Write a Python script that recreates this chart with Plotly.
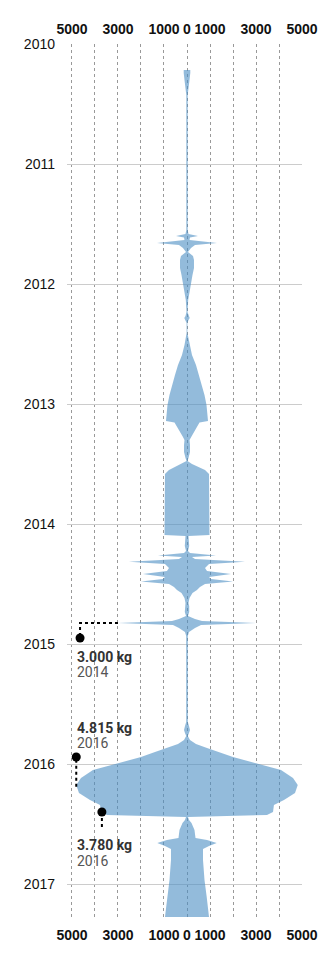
import plotly.graph_objects as go

# Time (decimal year) and half-width value (kg) of the symmetric stream
years = [2010.2167, 2010.2417, 2010.3, 2010.3667, 2010.425, 2011.55, 2011.5833, 2011.6, 2011.6125,
         2011.6333, 2011.6583, 2011.675, 2011.7, 2011.7333, 2011.7667, 2011.8, 2011.8667, 2011.925,
         2012.0083, 2012.1333, 2012.2333, 2012.2667, 2012.2833, 2012.3, 2012.325, 2012.4083, 2012.45,
         2012.5083, 2012.5917, 2012.675, 2012.7583, 2012.8417, 2012.925, 2013.0083, 2013.0917,
         2013.1417, 2013.1542, 2013.2, 2013.2417, 2013.275, 2013.3, 2013.3417, 2013.4, 2013.45,
         2013.475, 2013.5, 2013.525, 2013.55, 2013.5833, 2014.05, 2014.0917, 2014.1, 2014.1333,
         2014.1833, 2014.225, 2014.2417, 2014.2625, 2014.275, 2014.2917, 2014.3142, 2014.3333,
         2014.3667, 2014.3917, 2014.4167, 2014.4417, 2014.4583, 2014.4792, 2014.5, 2014.525, 2014.55,
         2014.575, 2014.6167, 2014.6583, 2014.6833, 2014.7333, 2014.7667, 2014.7917, 2014.8083,
         2014.825, 2014.8417, 2014.8667, 2014.9, 2014.9333, 2015.65, 2015.6833, 2015.7167, 2015.7417,
         2015.7667, 2015.8, 2015.8333, 2015.8667, 2015.9, 2015.9417, 2015.9917, 2016.05, 2016.1167,
         2016.175, 2016.2417, 2016.3, 2016.3417, 2016.4, 2016.425, 2016.4417, 2016.4667, 2016.4917,
         2016.55, 2016.6167, 2016.6333, 2016.6583, 2016.6833, 2016.7083, 2016.8, 2016.9667, 2017.1083,
         2017.275]
kg = [143, 143, 109, 52, 30, 30, 65, 478, 130,
      109, 1304, 348, 174, 43, 261, 304, 304, 239,
      152, 52, 22, 65, 117, 65, 17, 17, 65,
      109, 217, 391, 522, 652, 761, 848, 891,
      913, 543, 413, 283, 174, 109, 130, 130, 65,
      22, 217, 522, 783, 957, 978, 978, 65, 87,
      96, 43, 130, 1261, 217, 348, 2522, 957,
      783, 870, 1913, 957, 1043, 2000, 783, 565, 435,
      239, 109, 65, 96, 96, 43, 348, 652,
      3000, 609, 348, 87, 35, 35, 87, 130, 87,
      35, 130, 391, 870, 1391, 2000, 2957, 4087, 4609,
      4815, 4696, 4217, 3780, 3739, 3478, 43, 87, 196,
      326, 370, 870, 1291, 957, 696, 696, 761, 857,
      957]

year_ticks = [2010, 2011, 2012, 2013, 2014, 2015, 2016, 2017]
x_ticks = [-5000, -4000, -3000, -2000, -1000, 0, 1000, 2000, 3000, 4000, 5000]
x_labels = ["5000", "", "3000", "", "1000", "0", "1000", "", "3000", "", "5000"]

# Callouts: value label, year label
callouts = [
    {"value": "3.000 kg", "year": "2014"},
    {"value": "4.815 kg", "year": "2016"},
    {"value": "3.780 kg", "year": "2016"},
]

fig = go.Figure()

poly_x = kg + [-v for v in kg[::-1]]
poly_y = years + years[::-1]
fig.add_trace(go.Scatter(
    x=poly_x, y=poly_y, mode="lines", fill="toself",
    fillcolor="rgba(75,142,195,0.6)", line=dict(width=0, color="rgba(0,0,0,0)"),
    hoverinfo="skip", showlegend=False))

# callout leader lines (dotted) and dots
leader = dict(color="black", width=2, dash="dot")
fig.add_trace(go.Scatter(x=[-3000, -4650, -4650], y=[2014.825, 2014.825, 2014.95],
                         mode="lines", line=leader, showlegend=False, hoverinfo="skip"))
fig.add_trace(go.Scatter(x=[-4815, -4815], y=[2016.19, 2015.942],
                         mode="lines", line=leader, showlegend=False, hoverinfo="skip"))
fig.add_trace(go.Scatter(x=[-3700, -3700], y=[2016.4, 2016.55],
                         mode="lines", line=leader, showlegend=False, hoverinfo="skip"))
fig.add_trace(go.Scatter(x=[-4650, -4815, -3700], y=[2014.95, 2015.942, 2016.4],
                         mode="markers", marker=dict(color="black", size=9),
                         showlegend=False, hoverinfo="skip"))

label_pos = [(-4880, 2015.108, 2015.233), (-4880, 2015.70, 2015.825), (-4880, 2016.675, 2016.808)]
for c, (lx, y1, y2) in zip(callouts, label_pos):
    fig.add_annotation(x=lx, y=y1, text="<b>" + c["value"] + "</b>", showarrow=False,
                       xanchor="left", yanchor="middle",
                       font=dict(family="Roboto", size=14, color="#333333"))
    fig.add_annotation(x=lx, y=y2, text=c["year"], showarrow=False,
                       xanchor="left", yanchor="middle",
                       font=dict(family="Roboto", size=14, color="#555555"))

xaxis_common = dict(range=[-5217, 5000], tickvals=x_ticks, ticktext=x_labels,
                    tickfont=dict(family="Liberation Sans", size=14, color="#111111", weight="bold"),
                    zeroline=False, showline=False, fixedrange=True, automargin=False)

fig.update_layout(
    width=320, height=970,
    margin=dict(l=67, r=18, t=44, b=53),
    paper_bgcolor="white", plot_bgcolor="white",
    showlegend=False,
    xaxis=dict(**xaxis_common, side="bottom", showgrid=True, gridcolor="#999999",
               griddash="3px,3px", gridwidth=1, ticklabelstandoff=8),
    xaxis2=dict(**xaxis_common, side="top", overlaying="x", matches="x", showgrid=False,
                ticklabelstandoff=6),
    yaxis=dict(range=[2017.275, 2010], tickvals=year_ticks, ticktext=[str(y) for y in year_ticks],
               tickfont=dict(family="Liberation Sans", size=14, color="#111111"),
               showgrid=True, gridcolor="#cccccc", gridwidth=1, zeroline=False, showline=False,
               ticklabelstandoff=11, automargin=False),
)
# dummy trace to show the top axis
fig.add_trace(go.Scatter(x=[0], y=[2010], xaxis="x2", mode="markers",
                         marker=dict(opacity=0), showlegend=False, hoverinfo="skip"))

fig.write_html("out.html")
